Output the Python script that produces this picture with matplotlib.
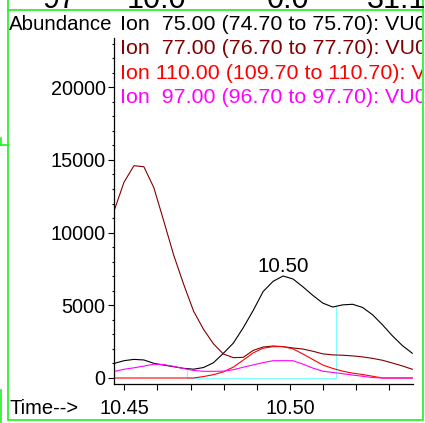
import matplotlib
matplotlib.use("Agg")
import matplotlib.pyplot as plt
import numpy as np
from matplotlib.ticker import MultipleLocator, FixedLocator, FormatStrFormatter
from matplotlib.patches import Rectangle
from matplotlib.lines import Line2D
from matplotlib.transforms import Bbox, TransformedBbox

plt.rcParams['font.family'] = ['Liberation Sans', 'DejaVu Sans']

# scan times (min)
times = [10.4469, 10.4499, 10.4529, 10.4559, 10.4589, 10.4619, 10.4649, 10.4679,
         10.4709, 10.4739, 10.4769, 10.4799, 10.4829, 10.4859, 10.4889, 10.4919,
         10.4949, 10.4979, 10.5009, 10.5039, 10.5069, 10.5099, 10.5129, 10.5159,
         10.5189, 10.5219, 10.5249, 10.5279, 10.5309, 10.5339, 10.5369]

# extracted ion abundances
ion75 = [1000, 1190, 1280, 1240, 1010, 890, 775, 665, 605, 720, 1050, 1700, 2400,
         3460, 4650, 5950, 6650, 7015, 6810, 6270, 5680, 5150, 4880, 5030, 5070,
         4850, 4350, 3660, 2900, 2230, 1700]
ion77 = [11485, 13460, 14600, 14530, 13100, 10800, 8450, 6450, 4600, 3350, 2350,
         1650, 1400, 1420, 1900, 2130, 2200, 2155, 2065, 1990, 1840, 1660, 1590,
         1565, 1520, 1450, 1350, 1220, 1030, 830, 600]
ion110 = [0, 0, 0, 0, 0, 0, 0, 0, 0, 100, 230, 420, 750, 1230, 1730, 2050, 2155,
          2160, 2000, 1650, 1270, 890, 660, 470, 330, 240, 120, 0, 0, 0, 0]
ion97 = [450, 600, 700, 820, 950, 920, 800, 650, 520, 460, 460, 470, 570, 740, 900,
         1060, 1190, 1190, 1190, 950, 680, 470, 380, 295, 200, 120, 30, 0, 0, 0, 0]

series = [ion75, ion77, ion110, ion97]
series_colors = ['black', '#800000', '#ff0000', '#ff00ff']
ion_labels = ['Ion  75.00 (74.70 to 75.70): VU0149.D',
              'Ion  77.00 (76.70 to 77.70): VU0149.D',
              'Ion 110.00 (109.70 to 110.70): VU0149.D',
              'Ion  97.00 (96.70 to 97.70): VU0149.D']

# row of the results table above the window (only its lower edge shows)
table_cells = ['97', '10.0', '0.0', '31.1']
table_x = [43, 127, 267, 367]

# integration window on ion 75
integ_start, integ_end = 10.4688, 10.5138

W, H = 425, 423
fig = plt.figure(figsize=(W / 100, H / 100), dpi=100)


def fx(px):
    return px / W


def fy(py):
    return 1 - py / H


ax = fig.add_axes([fx(114), fy(384), fx(413) - fx(114), fy(38) - fy(384)])

y_int = np.interp([integ_start, integ_end], times, ion75)
cyan = '#7fffff'
ax.plot([integ_start, integ_start, integ_end, integ_end],
        [y_int[0], 0, 0, y_int[1]], color=cyan, lw=0.8)

for vals, c in zip(series, series_colors):
    ax.plot(times, vals, color=c, lw=0.8)

ax.set_xlim(10.44689, 10.53711)
ax.set_ylim(-413, 23384)

for s in ['top', 'right']:
    ax.spines[s].set_visible(False)
for s in ['left', 'bottom']:
    ax.spines[s].set_linewidth(0.9)

ax.xaxis.set_major_locator(FixedLocator([10.45, 10.50]))
ax.xaxis.set_major_formatter(FormatStrFormatter('%.2f'))
ax.xaxis.set_minor_locator(MultipleLocator(0.01))
ax.yaxis.set_major_locator(MultipleLocator(5000))
ax.yaxis.set_minor_locator(MultipleLocator(1000))
ax.tick_params(axis='x', which='both', length=4, width=0.8, direction='out',
               labelsize=14.3, pad=6.5)
ax.tick_params(axis='y', which='major', length=4, width=0.8, labelsize=14.3, pad=2)
ax.tick_params(axis='y', which='minor', length=1.5, width=0.8)

# peak label
ipk = int(np.argmax(ion75))
ax.annotate(f"{times[ipk]:.2f}", (times[ipk], ion75[ipk]), xytext=(0, 3),
            textcoords='offset points', ha='center', va='baseline', fontsize=14.8)

# window frame
green = '#22ee22'
frame = Rectangle((fx(7.5), fy(419.5)), fx(422.5) - fx(7.5), fy(10) - fy(419.5),
                  transform=fig.transFigure, fill=False, ec=green, lw=1.2)
fig.patches.append(frame)
for xs, ys in [([7.5, 7.5], [0, 10]), ([422.5, 422.5], [0, 10]),
               ([0.5, 0.5], [138, 145]), ([0.5, 7.5], [145, 145]),
               ([0.5, 0.5], [390, 423])]:
    fig.lines.append(Line2D([fx(x) for x in xs], [fy(y) for y in ys],
                            transform=fig.transFigure, color=green, lw=1.2))

for cell, x in zip(table_cells, table_x):
    fig.text(fx(x), fy(7.5), cell, fontsize=22, va='baseline')

clip = TransformedBbox(Bbox([[fx(7.5), fy(419.5)], [fx(421.5), fy(10)]]),
                       fig.transFigure)

fig.text(fx(9), fy(29.5), 'Abundance', fontsize=14.7, va='baseline')
fig.text(fx(10), fy(414), 'Time-->', fontsize=14.5, va='baseline')

for i, (lab, c) in enumerate(zip(ion_labels, series_colors)):
    t = fig.text(fx(120), fy(29.5 + 24.6 * i), lab, fontsize=15.4, color=c,
                 va='baseline')
    t.set_clip_box(clip)
    t.set_clip_on(True)

fig.savefig('out.png', dpi=100)
